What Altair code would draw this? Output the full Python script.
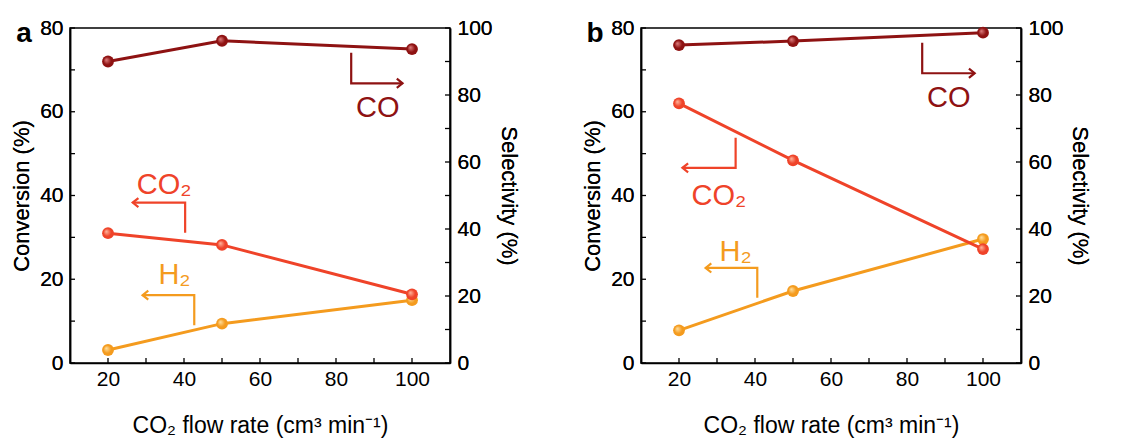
import altair as alt
import pandas as pd

# ---------------- data ----------------
flow = [20, 50, 100]

a_co2_conv = [31.0, 28.2, 16.4]
a_h2_conv = [3.1, 9.4, 15.0]
a_co_sel = [90.0, 96.2, 93.7]

b_co2_conv = [62.0, 48.4, 27.2]
b_h2_conv = [7.8, 17.2, 29.6]
b_co_sel = [94.9, 96.1, 98.6]

series_names = ["CO", "CO₂", "H₂"]
series_colors = ["#8E1212", "#EF4329", "#F49B1E"]
label_colors = ["#A34545", "#EF4329", "#F49B1E"]
light_colors = ["#E08080", "#FFB8A0", "#FFE0A0"]

# annotation arrows (x in flow units, y in conversion units), 3 points each
a_arrow_x = {"CO": [84.0, 84.0, 97.5], "CO₂": [40.3, 40.3, 26.5], "H₂": [42.7, 42.7, 29.1]}
a_arrow_y = {"CO": [74.1, 66.8, 66.8], "CO₂": [31.1, 38.3, 38.3], "H₂": [9.0, 16.2, 16.2]}
a_label_x = {"CO": 91.0, "CO₂": 34.8, "H₂": 37.5}
a_label_y = {"CO": 61.0, "CO₂": 42.5, "H₂": 21.0}

b_arrow_x = {"CO": [84.0, 84.0, 97.8], "CO₂": [34.9, 34.9, 20.9], "H₂": [40.6, 40.6, 27.0]}
b_arrow_y = {"CO": [76.5, 69.2, 69.2], "CO₂": [53.8, 46.6, 46.6], "H₂": [15.6, 22.7, 22.7]}
b_label_x = {"CO": 91.0, "CO₂": 30.5, "H₂": 34.9}
b_label_y = {"CO": 63.4, "CO₂": 39.8, "H₂": 26.6}

arrow_dir = {"CO": "right", "CO₂": "left", "H₂": "left"}

x_ticks_major = [20, 40, 60, 80, 100]
x_ticks_minor = [30, 50, 70, 90]
conv_ticks_major = [0, 20, 40, 60, 80]
conv_ticks_minor = [10, 30, 50, 70]
sel_ticks_major = [0, 20, 40, 60, 80, 100]
sel_ticks_minor = [10, 30, 50, 70, 90]

W, H = 380, 335
FONT = "Liberation Sans"

x_scale = alt.Scale(domain=[10, 110], nice=False, zero=False)
conv_scale = alt.Scale(domain=[0, 80], nice=False)
sel_scale = alt.Scale(domain=[0, 100], nice=False)
color_scale = alt.Scale(domain=series_names, range=series_colors)
label_scale = alt.Scale(domain=series_names, range=label_colors)

x_axis = alt.Axis(values=x_ticks_major, title="CO₂ flow rate (cm³ min⁻¹)",
                  labelPadding=5, titlePadding=25, titleFontSize=23)


def X(field):
    return alt.X(field, scale=x_scale, axis=x_axis)


def grad(i):
    return alt.RadialGradient(
        gradient="radial",
        stops=[alt.GradientStop(color=light_colors[i], offset=0),
               alt.GradientStop(color=series_colors[i], offset=0.6),
               alt.GradientStop(color=series_colors[i], offset=1)],
        x1=0.35, y1=0.35, r1=0, x2=0.5, y2=0.5, r2=0.55)


def make_panel(co2, h2, co, ax, ay, lx, ly, letter):
    layers = []
    # H2 (with left axis)
    dh = pd.DataFrame({"flow": flow, "v": h2})
    base_h = alt.Chart(dh).encode(
        x=X("flow:Q"),
        y=alt.Y("v:Q", scale=conv_scale,
                axis=alt.Axis(values=conv_ticks_major, title="Conversion (%)", orient="left",
                              labelPadding=7, titlePadding=6)))
    layers.append(base_h.mark_line(color=series_colors[2], strokeWidth=3))
    layers.append(base_h.mark_circle(size=140, opacity=1, fill=grad(2)))
    # CO2
    dc = pd.DataFrame({"flow": flow, "v": co2})
    base_c = alt.Chart(dc).encode(
        x=X("flow:Q"),
        y=alt.Y("v:Q", scale=conv_scale, axis=None))
    layers.append(base_c.mark_line(color=series_colors[1], strokeWidth=3))
    layers.append(base_c.mark_circle(size=140, opacity=1, fill=grad(1)))
    # CO selectivity (right axis)
    ds = pd.DataFrame({"flow": flow, "v": co})
    base_s = alt.Chart(ds).encode(
        x=X("flow:Q"),
        y=alt.Y("v:Q", scale=sel_scale,
                axis=alt.Axis(values=sel_ticks_major, title="Selectivity (%)", orient="right",
                              labelPadding=7, titlePadding=4)))
    layers.append(base_s.mark_line(color=series_colors[0], strokeWidth=3))
    layers.append(base_s.mark_circle(size=140, opacity=1, fill=grad(0)))

    # arrows
    rows = []
    heads = []
    for s in series_names:
        for i in range(3):
            rows.append({"s": s, "i": i, "x": ax[s][i], "y": ay[s][i]})
        heads.append({"s": s, "x": ax[s][2], "y": ay[s][2], "d": arrow_dir[s]})
    da = pd.DataFrame(rows)
    layers.append(alt.Chart(da).mark_line(strokeWidth=2.2).encode(
        x=X("x:Q"),
        y=alt.Y("y:Q", scale=conv_scale, axis=None),
        color=alt.Color("s:N", scale=color_scale, legend=None),
        detail="s:N", order="i:Q"))
    dhd = pd.DataFrame(heads)
    layers.append(alt.Chart(dhd).mark_point(filled=False, strokeWidth=2.2, size=130, opacity=1).encode(
        x=X("x:Q"),
        y=alt.Y("y:Q", scale=conv_scale, axis=None),
        color=alt.Color("s:N", scale=color_scale, legend=None),
        shape=alt.Shape("d:N", scale=alt.Scale(domain=["right", "left"],
                                               range=["M-1,-0.8L0,0L-1,0.8", "M1,-0.8L0,0L1,0.8"]),
                        legend=None)))
    # labels
    dl = pd.DataFrame({"s": series_names,
                       "x": [lx[s] for s in series_names],
                       "y": [ly[s] for s in series_names]})
    layers.append(alt.Chart(dl).mark_text(font=FONT, fontSize=29, baseline="middle", align="center").encode(
        x=X("x:Q"),
        y=alt.Y("y:Q", scale=conv_scale, axis=None),
        text="s:N",
        color=alt.Color("s:N", scale=label_scale, legend=None)))

    # inward ticks
    dxt = pd.DataFrame({"t": x_ticks_major + x_ticks_minor})
    layers.append(alt.Chart(dxt).mark_rule(color="black", strokeWidth=1.3).encode(
        x=X("t:Q"),
        y=alt.value(H),
        y2=alt.YValue(H - 5)))
    dyt = pd.DataFrame({"t": conv_ticks_major + conv_ticks_minor})
    layers.append(alt.Chart(dyt).mark_rule(color="black", strokeWidth=1.3).encode(
        y=alt.Y("t:Q", scale=conv_scale, axis=None),
        x=alt.value(0), x2=alt.XValue(5)))
    dst = pd.DataFrame({"t": sel_ticks_major + sel_ticks_minor})
    layers.append(alt.Chart(dst).mark_rule(color="black", strokeWidth=1.3).encode(
        y=alt.Y("t:Q", scale=sel_scale, axis=None),
        x=alt.value(W - 5), x2=alt.XValue(W)))

    # panel letter
    dlet = pd.DataFrame({"t": [letter]})
    layers.append(alt.Chart(dlet).mark_text(font=FONT, fontSize=28, fontWeight="bold",
                                            align="center", baseline="middle").encode(
        text="t:N", x=alt.value(-46), y=alt.value(6)))

    return alt.layer(*layers).resolve_scale(y="independent").properties(width=W, height=H)


pa = make_panel(a_co2_conv, a_h2_conv, a_co_sel, a_arrow_x, a_arrow_y, a_label_x, a_label_y, "a")
pb = make_panel(b_co2_conv, b_h2_conv, b_co_sel, b_arrow_x, b_arrow_y, b_label_x, b_label_y, "b")

chart = alt.hconcat(pa, pb, spacing=60).properties(
    padding={"left": 9, "top": 16, "right": 5, "bottom": 5},
    background="white"
).configure_view(stroke="black", strokeWidth=1.5).configure_axis(
    labelFont=FONT, titleFont=FONT, labelFontSize=21, titleFontSize=22,
    titleFontWeight="normal", labelColor="black", titleColor="black",
    domainColor="black", domainWidth=1.5, ticks=False, grid=False
)

chart.save("out.html", embed_options={"renderer": "svg", "actions": False})
